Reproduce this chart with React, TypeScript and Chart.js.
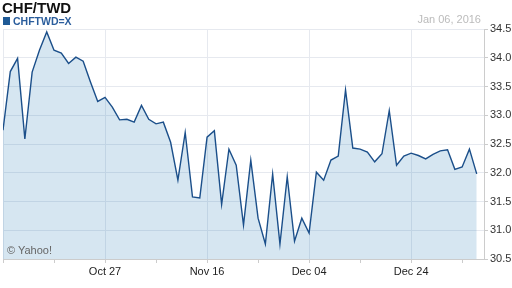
import React, { useEffect, useRef } from "react";
import { Chart, registerables } from "chart.js";

Chart.register(...registerables);

// Trading days shown on the chart (categories)
const DATES: string[] = [
  "Oct 07", "Oct 08", "Oct 09", "Oct 12", "Oct 13", "Oct 14", "Oct 15", "Oct 16", "Oct 19", "Oct 20",
  "Oct 21", "Oct 22", "Oct 23", "Oct 26", "Oct 27", "Oct 28", "Oct 29", "Oct 30", "Nov 02", "Nov 03",
  "Nov 04", "Nov 05", "Nov 06", "Nov 09", "Nov 10", "Nov 11", "Nov 12", "Nov 13", "Nov 16", "Nov 17",
  "Nov 18", "Nov 19", "Nov 20", "Nov 23", "Nov 24", "Nov 25", "Nov 26", "Nov 27", "Nov 30", "Dec 01",
  "Dec 02", "Dec 03", "Dec 04", "Dec 07", "Dec 08", "Dec 09", "Dec 10", "Dec 11", "Dec 14", "Dec 15",
  "Dec 16", "Dec 17", "Dec 18", "Dec 21", "Dec 22", "Dec 23", "Dec 24", "Dec 25", "Dec 28", "Dec 29",
  "Dec 30", "Dec 31", "Jan 01", "Jan 04", "Jan 05", "Jan 06",
];

// CHF/TWD close values
const RATES: number[] = [
  32.74, 33.76, 33.99, 32.59, 33.75, 34.13, 34.45, 34.13, 34.08, 33.90,
  34.01, 33.94, 33.58, 33.24, 33.31, 33.14, 32.92, 32.93, 32.88, 33.17,
  32.93, 32.85, 32.88, 32.53, 31.87, 32.70, 31.58, 31.56, 32.62, 32.73,
  31.45, 32.41, 32.13, 31.09, 32.22, 31.21, 30.76, 31.98, 30.76, 31.93,
  30.81, 31.21, 30.95, 32.01, 31.87, 32.22, 32.29, 33.44, 32.43, 32.41,
  32.36, 32.19, 32.33, 33.08, 32.13, 32.29, 32.34, 32.30, 32.24, 32.32,
  32.38, 32.40, 32.06, 32.10, 32.41, 31.98,
];

// Labelled x ticks
const MAJOR_TICKS: string[] = ["Oct 27", "Nov 16", "Dec 04", "Dec 24"];
// Y axis range / tick step
const Y_TICKS: number[] = [30.5, 31.0, 31.5, 32.0, 32.5, 33.0, 33.5, 34.0, 34.5];

const FONT = '"Liberation Sans", Arial, Helvetica, sans-serif';
const GRID = "#e6e9ef";
const LINE = "#1b4f8a";

export default function App() {
  const ref = useRef<HTMLCanvasElement | null>(null);

  useEffect(() => {
    document.body.style.margin = "0";
    const canvas = ref.current;
    if (!canvas) return;
    const points = RATES.map((v, i) => ({ x: i, y: v }));
    const isMajor = (v: number) => v === 0 || MAJOR_TICKS.includes(DATES[v]);
    const chart = new Chart(canvas, {
      type: "line",
      data: {
        datasets: [
          {
            label: "CHFTWD=X",
            data: points,
            borderColor: LINE,
            borderWidth: 1.4,
            backgroundColor: "rgba(27,116,177,0.18)",
            fill: "start",
            pointRadius: 0,
            tension: 0,
          },
        ],
      },
      options: {
        animation: false,
        responsive: false,
        devicePixelRatio: 1,
        layout: { padding: { left: 3, top: 29, right: 0, bottom: 0 } },
        plugins: {
          legend: { display: false },
          tooltip: { enabled: false },
          title: { display: false },
        },
        scales: {
          x: {
            type: "linear",
            min: 0,
            max: DATES.length,
            afterBuildTicks: (scale: any) => {
              const t: any[] = [];
              for (let v = 0; v < DATES.length; v += 7) t.push({ value: v });
              scale.ticks = t;
            },
            afterFit: (scale: any) => {
              scale.height = 29;
            },
            ticks: {
              autoSkip: false,
              maxRotation: 0,
              padding: 2,
              color: "#222",
              font: { family: FONT, size: 11 },
              callback: (value: any) => {
                const lbl = DATES[Number(value)];
                return MAJOR_TICKS.includes(lbl) ? lbl : "";
              },
            },
            grid: {
              color: (ctx: any) => (ctx.tick && isMajor(ctx.tick.value) ? GRID : "rgba(0,0,0,0)"),
              tickColor: "#cccccc",
              tickLength: 4,
              lineWidth: 1,
            },
            border: { display: true, color: "#cccccc" },
          },
          y: {
            position: "right",
            min: Y_TICKS[0],
            max: Y_TICKS[Y_TICKS.length - 1],
            afterBuildTicks: (scale: any) => {
              scale.ticks = Y_TICKS.map((v) => ({ value: v }));
            },
            afterFit: (scale: any) => {
              scale.width = 28;
            },
            ticks: {
              padding: 2,
              color: "#333",
              font: { family: FONT, size: 11 },
              callback: (value: any) => Number(value).toFixed(1),
            },
            grid: { color: GRID, tickColor: "#cccccc", tickLength: 4 },
            border: { display: true, color: "#cccccc" },
          },
        },
      },
    });
    return () => chart.destroy();
  }, []);

  const abs: React.CSSProperties = {
    position: "absolute",
    whiteSpace: "nowrap",
    lineHeight: 1,
    fontFamily: FONT,
  };

  return (
    <div style={{ position: "relative", width: 512, height: 288, background: "#fff" }}>
      <canvas ref={ref} width={512} height={288} style={{ display: "block" }} />
      <div style={{ ...abs, left: 2, top: 0, fontSize: 15, fontWeight: "bold", color: "#111" }}>CHF/TWD</div>
      <div style={{ position: "absolute", left: 3, top: 17, width: 7, height: 8, background: "#1f5a96" }} />
      <div style={{ ...abs, left: 13, top: 16, fontSize: 10.5, fontWeight: "bold", color: "#2a5d9c" }}>CHFTWD=X</div>
      <div style={{ ...abs, right: 31, top: 13.6, fontSize: 11, color: "#bbbbbb", textAlign: "right" }}>Jan 06, 2016</div>
      <div style={{ ...abs, left: 7, top: 245, fontSize: 11, color: "#666666" }}>© Yahoo!</div>
    </div>
  );
}
